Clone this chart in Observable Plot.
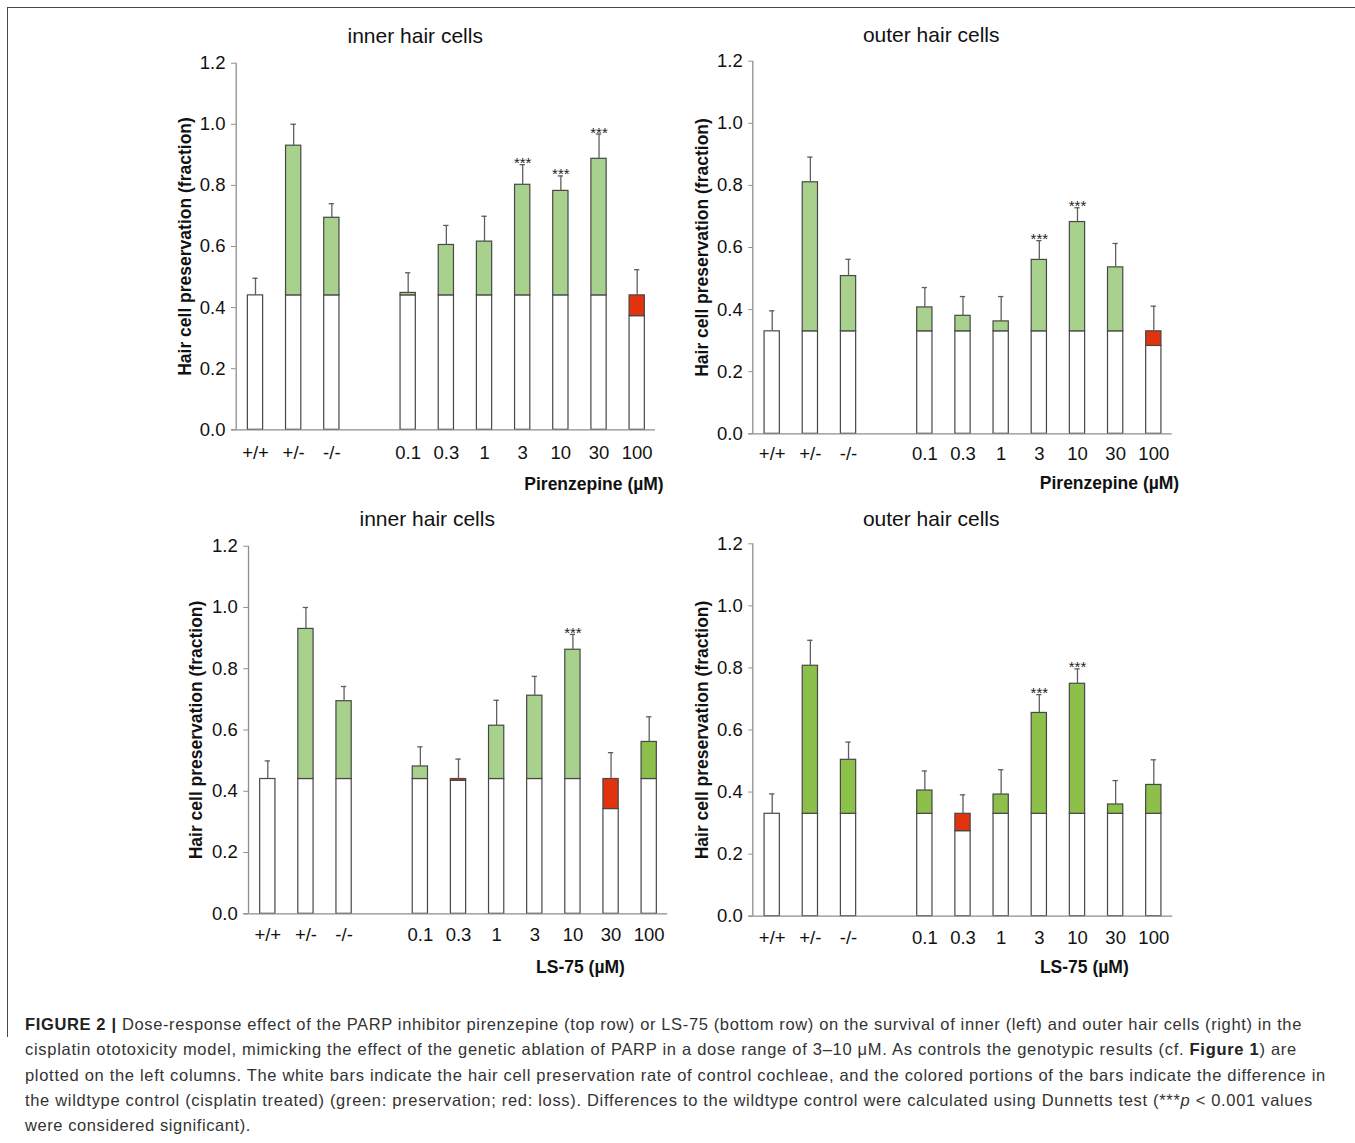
<!DOCTYPE html>
<html>
<head>
<meta charset="utf-8">
<script src="https://cdn.jsdelivr.net/npm/d3@7"></script>
<script src="https://cdn.jsdelivr.net/npm/@observablehq/plot@0.6"></script>
<style>
  body { margin: 0; background: #fff; }
  #page { position: relative; width: 1355px; height: 1143px; overflow: hidden; background: #fff;
          font-family: "Liberation Sans", Arial, Helvetica, sans-serif; }
  .panel { position: absolute; }
  #frameTop { position: absolute; left: 7px; top: 7px; width: 1348px; height: 0; border-top: 1.6px solid #474747; }
  #frameLeft { position: absolute; left: 7px; top: 7px; width: 0; height: 1030px; border-left: 1.6px solid #474747; }
  #caption { position: absolute; left: 25px; top: 1012px; font-size: 16.5px; line-height: 25.3px; color: #333;
             white-space: nowrap; }
  #caption div { display: block; width: max-content; }
  #caption b { color: #222; }
</style>
</head>
<body>
<div id="page">
  <div id="frameTop"></div>
  <div id="frameLeft"></div>
  <div id="caption">
    <div data-w="1277"><b>FIGURE 2 |</b> Dose-response effect of the PARP inhibitor pirenzepine (top row) or LS-75 (bottom row) on the survival of inner (left) and outer hair cells (right) in the</div>
    <div data-w="1272">cisplatin ototoxicity model, mimicking the effect of the genetic ablation of PARP in a dose range of 3–10 μM. As controls the genotypic results (cf. <b>Figure 1</b>) are</div>
    <div data-w="1301">plotted on the left columns. The white bars indicate the hair cell preservation rate of control cochleae, and the colored portions of the bars indicate the difference in</div>
    <div data-w="1288">the wildtype control (cisplatin treated) (green: preservation; red: loss). Differences to the wildtype control were calculated using Dunnetts test (***<i>p</i> &lt; 0.001 values</div>
    <div data-w="226">were considered significant).</div>
  </div>
</div>
<script>
// ---------------- data ----------------
const categories = ["+/+", "+/-", "-/-", "0.1", "0.3", "1", "3", "10", "30", "100"];
const yTicks = [0, 0.2, 0.4, 0.6, 0.8, 1.0, 1.2];

// Pirenzepine, inner hair cells
const pirIhcControl = 0.44;
const pirIhcMean   = [0.44, 0.93, 0.694, 0.448, 0.605, 0.616, 0.802, 0.782, 0.887, 0.372];
const pirIhcErrTop = [0.496, 1.0, 0.740, 0.514, 0.669, 0.699, 0.868, 0.831, 0.968, 0.524];
const pirIhcSig    = ["3", "10", "30"];

// Pirenzepine, outer hair cells
const pirOhcControl = 0.33;
const pirOhcMean   = [0.33, 0.81, 0.508, 0.407, 0.380, 0.362, 0.560, 0.682, 0.536, 0.283];
const pirOhcErrTop = [0.396, 0.891, 0.562, 0.471, 0.442, 0.442, 0.622, 0.728, 0.613, 0.411];
const pirOhcSig    = ["3", "10"];

// LS-75, inner hair cells
const lsIhcControl = 0.44;
const lsIhcMean   = [0.44, 0.930, 0.694, 0.481, 0.434, 0.614, 0.712, 0.862, 0.342, 0.561];
const lsIhcErrTop = [0.499, 1.0, 0.742, 0.545, 0.505, 0.697, 0.775, 0.912, 0.526, 0.643];
const lsIhcSig    = ["10"];

// LS-75, outer hair cells
const lsOhcControl = 0.33;
const lsOhcMean   = [0.33, 0.807, 0.504, 0.405, 0.274, 0.392, 0.655, 0.749, 0.360, 0.423];
const lsOhcErrTop = [0.394, 0.889, 0.561, 0.468, 0.391, 0.472, 0.714, 0.797, 0.437, 0.504];
const lsOhcSig    = ["3", "10"];

// ---------------- styles ----------------
const lightGreen = "#a9d18e";
const darkGreen = "#8cc04b";
const lossRed = "#e2330f";
const barStroke = "#474747";
const axisColor = "#8e8e8e";
const errColor = "#5f5f5f";
const FONT = "'Liberation Sans', Arial, Helvetica, sans-serif";

function slotOf(i) { return i < 3 ? i : i + 1; } // one empty slot between genotypes and doses

function buildRows(mean, errTop, control, darkCats) {
  return categories.map((cat, i) => {
    const m = mean[i];
    return {
      cat, slot: slotOf(i), mean: m, err: errTop[i],
      white: Math.min(m, control),
      lo: Math.min(m, control), hi: Math.max(m, control),
      fill: m >= control ? (darkCats.includes(cat) ? darkGreen : lightGreen) : lossRed
    };
  });
}

function panel(cfg) {
  const rows = buildRows(cfg.mean, cfg.errTop, cfg.control, cfg.darkCats);
  const g = cfg.geom;
  const s = (g.c10 - g.c0) / 10;
  const xmin = (g.axisX - g.c0) / s;
  const xmax = (g.baseR - g.c0) / s;
  const ml = g.axisX - g.left, mr = g.left + g.W - g.baseR;
  const mt = g.y12 - g.top, mb = g.top + g.H - g.y0;
  const frameCX = (g.axisX + g.baseR) / 2;
  const half = 0.2, cap = 0.07;

  const plot = Plot.plot({
    width: g.W, height: g.H,
    marginLeft: ml, marginRight: mr, marginTop: mt, marginBottom: mb,
    style: { fontFamily: FONT, background: "transparent", overflow: "visible", color: "#111" },
    x: { type: "linear", domain: [xmin, xmax], axis: null },
    y: { type: "linear", domain: [0, 1.2], axis: null },
    color: { type: "identity" },
    marks: [
      Plot.rectY(rows, { x1: d => d.slot - half, x2: d => d.slot + half, y1: 0, y2: "white",
        fill: "white", stroke: barStroke, strokeWidth: 1.2 }),
      Plot.rectY(rows.filter(d => d.hi - d.lo > 0.0005), { x1: d => d.slot - half, x2: d => d.slot + half,
        y1: "lo", y2: "hi", fill: "fill", stroke: barStroke, strokeWidth: 1.2 }),
      Plot.ruleX(rows, { x: "slot", y1: "hi", y2: "err", stroke: errColor, strokeWidth: 1.3 }),
      Plot.ruleY(rows, { x1: d => d.slot - cap, x2: d => d.slot + cap, y: "err", stroke: errColor, strokeWidth: 1.3 }),
      Plot.text(rows.filter(d => cfg.sig.includes(d.cat)), { x: "slot", y: "err", text: () => "***",
        lineAnchor: "bottom", textAnchor: "middle", dy: 3.5, fontSize: 15, fill: "#222" }),
      Plot.ruleX([xmin], { y1: 0, y2: 1.2, stroke: axisColor, strokeWidth: 1.3 }),
      Plot.ruleY([0], { stroke: axisColor, strokeWidth: 1.3, insetLeft: -(g.axisX - g.baseL) }),
      Plot.axisY({ ticks: yTicks, tickFormat: d3.format(".1f"), tickSize: g.axisX - g.baseL,
        tickPadding: 6, stroke: axisColor, fill: "#111", fontSize: 18.5, label: null }),
      Plot.axisX({ ticks: rows.map(d => d.slot), tickFormat: v => categories[rows.findIndex(d => d.slot === v)],
        tickSize: 0, tickPadding: g.tickPad, fill: "#111", fontSize: 18.5, label: null }),
      Plot.text([cfg.title], { frameAnchor: "top", textAnchor: "middle", lineAnchor: "bottom",
        dx: g.titleCX - frameCX, dy: g.titleBase - g.y12, fontSize: 21, fill: "#111" }),
      Plot.text([cfg.xLabel], { frameAnchor: "bottom", textAnchor: "middle", lineAnchor: "middle",
        dx: g.xlabCX - frameCX, dy: g.xlabCY - g.y0, fontSize: 17.5, fontWeight: "bold", fill: "#111" }),
      Plot.text(["Hair cell preservation (fraction)"], { frameAnchor: "left", textAnchor: "middle",
        lineAnchor: "middle", rotate: -90, dx: g.ylabCX - g.axisX, fontSize: 17.5, fontWeight: "bold", fill: "#111" })
    ]
  });
  plot.classList.add("panel");
  plot.style.left = g.left + "px";
  plot.style.top = g.top + "px";
  plot.style.maxWidth = "none";
  document.getElementById("page").appendChild(plot);
}

panel({
  title: "inner hair cells", xLabel: "Pirenzepine (µM)",
  mean: pirIhcMean, errTop: pirIhcErrTop, control: pirIhcControl, sig: pirIhcSig, darkCats: [],
  geom: { left: 150, top: 10, W: 540, H: 492, axisX: 235.7, baseL: 231, baseR: 655, y12: 62.7, y0: 429.3,
          c0: 255, c10: 636.7, titleCX: 414.7, titleBase: 42.7, tickPad: 15.8, xlabCX: 593.5, xlabCY: 484, ylabCX: 185 }
});
panel({
  title: "outer hair cells", xLabel: "Pirenzepine (µM)",
  mean: pirOhcMean, errTop: pirOhcErrTop, control: pirOhcControl, sig: pirOhcSig, darkCats: [],
  geom: { left: 680, top: 10, W: 530, H: 492, axisX: 752.3, baseL: 748.3, baseR: 1171.7, y12: 60.7, y0: 433.3,
          c0: 771.7, c10: 1153.3, titleCX: 930.7, titleBase: 41.7, tickPad: 13.4, xlabCX: 1109, xlabCY: 483.3, ylabCX: 701.7 }
});
panel({
  title: "inner hair cells", xLabel: "LS-75 (µM)",
  mean: lsIhcMean, errTop: lsIhcErrTop, control: lsIhcControl, sig: lsIhcSig, darkCats: ["100"],
  geom: { left: 150, top: 502, W: 540, H: 490, axisX: 248, baseL: 243.3, baseR: 667.3, y12: 545.7, y0: 913.3,
          c0: 267.3, c10: 648.7, titleCX: 426.7, titleBase: 525.7, tickPad: 14.1, xlabCX: 580, xlabCY: 966.7, ylabCX: 196 }
});
panel({
  title: "outer hair cells", xLabel: "LS-75 (µM)",
  mean: lsOhcMean, errTop: lsOhcErrTop, control: lsOhcControl, sig: lsOhcSig, darkCats: categories,
  geom: { left: 680, top: 502, W: 530, H: 490, axisX: 752.3, baseL: 748.3, baseR: 1172.3, y12: 543.3, y0: 915.7,
          c0: 771.7, c10: 1153.3, titleCX: 930.7, titleBase: 525.7, tickPad: 15, xlabCX: 1083.8, xlabCY: 966.7, ylabCX: 701.7 }
});

// stretch caption lines to the widths seen in the figure
document.querySelectorAll("#caption div").forEach(div => {
  const target = +div.dataset.w;
  const w = div.getBoundingClientRect().width;
  const n = div.textContent.length;
  if (n > 1) div.style.letterSpacing = ((target - w) / n) + "px";
});
</script>
</body>
</html>
